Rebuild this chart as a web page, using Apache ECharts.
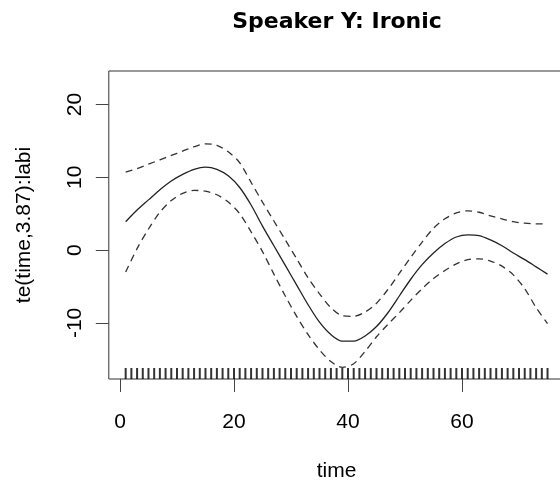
<!DOCTYPE html>
<html>
<head>
<meta charset="utf-8">
<script src="https://cdn.jsdelivr.net/npm/echarts@6/dist/echarts.min.js"></script>
<style>
html,body{margin:0;padding:0;background:#fff;overflow:hidden;}
#chart{width:560px;height:480px;}
</style>
</head>
<body>
<div id="chart"></div>
<script>
// Data
var times = [1, 3, 5, 7, 9, 11, 13, 15, 17, 19, 21, 23, 25, 27, 29, 31, 33, 35, 37, 39, 41, 43, 45, 47, 49, 51, 53, 55, 57, 59, 61, 63, 65, 67, 69, 71, 73, 75];
var fit   = [3.9, 5.5, 6.9, 8.3, 9.5, 10.4, 11.1, 11.4, 11.1, 10.2, 8.6, 6.2, 3.3, 0.6, -2.1, -4.8, -7.5, -9.9, -11.6, -12.5, -12.5, -11.8, -10.5, -8.6, -6.3, -4.0, -2.0, -0.4, 0.9, 1.8, 2.1, 2.0, 1.4, 0.6, -0.4, -1.3, -2.3, -3.3];
var upper = [10.7, 11.2, 11.8, 12.4, 13.0, 13.6, 14.2, 14.6, 14.4, 13.5, 12.0, 9.3, 6.6, 4.0, 1.4, -1.2, -3.8, -6.0, -7.9, -9.0, -9.1, -8.5, -7.3, -5.4, -3.2, -1.0, 1.1, 3.0, 4.3, 5.1, 5.4, 5.2, 4.7, 4.3, 3.9, 3.7, 3.6, 3.6];
var lower = [-3.0, 0.2, 2.9, 5.2, 6.8, 7.8, 8.2, 8.1, 7.6, 6.6, 5.0, 2.5, -0.2, -3.3, -6.3, -9.1, -11.6, -13.7, -15.3, -16.1, -15.6, -13.9, -11.9, -10.2, -8.6, -6.9, -5.3, -3.9, -2.8, -1.9, -1.3, -1.2, -1.5, -2.2, -3.4, -5.3, -7.9, -10.1];
var rugTimes = [1,2,3,4,5,6,7,8,9,10,11,12,13,14,15,16,17,18,19,20,21,22,23,24,25,26,27,28,29,30,31,32,33,34,35,36,37,38,39,40,41,42,43,44,45,46,47,48,49,50,51,52,53,54,55,56,57,58,59,60,61,62,63,64,65,66,67,68,69,70,71,72,73,74,75];
var xTicks = [0, 20, 40, 60];
var yTicks = [-10, 0, 10, 20];
var xRange = [-1.96, 77.96];
var yRange = [-17.7, 24.6];

function pairs(xs, ys) { return xs.map(function (x, i) { return [x, ys[i]]; }); }

var chart = echarts.init(document.getElementById('chart'), null, {renderer: 'canvas'});
var font = 'Liberation Sans, Arial, Helvetica, sans-serif';
chart.setOption({
  animation: false,
  backgroundColor: '#ffffff',
  title: {
    text: 'Speaker Y: Ironic',
    left: 332,
    top: 6,
    textAlign: 'center',
    textStyle: {fontFamily: 'DejaVu Sans', fontWeight: 'bold', fontSize: 22, color: '#000'}
  },
  grid: {
    left: 108.8, top: 71, right: -4.4, bottom: 101,
    show: true, borderColor: '#333', borderWidth: 1, containLabel: false,
    outerBoundsMode: 'none'
  },
  xAxis: {
    type: 'value', min: xRange[0], max: xRange[1],
    name: 'time', nameLocation: 'middle', nameGap: 82,
    nameTextStyle: {fontFamily: font, fontSize: 21, color: '#000'},
    axisLine: {show: false, onZero: false},
    splitLine: {show: false},
    axisTick: {show: true, length: 13, inside: false, customValues: xTicks, lineStyle: {color: '#444', width: 1}},
    axisLabel: {customValues: xTicks, margin: 33, fontFamily: font, fontSize: 21, color: '#000'}
  },
  yAxis: {
    type: 'value', min: yRange[0], max: yRange[1],
    name: 'te(time,3.87):labi', nameLocation: 'middle', nameGap: 74, nameRotate: 90,
    nameTextStyle: {fontFamily: font, fontSize: 21, color: '#000'},
    axisLine: {show: false, onZero: false},
    splitLine: {show: false},
    axisTick: {show: true, length: 13, inside: false, customValues: yTicks, lineStyle: {color: '#444', width: 1}},
    axisLabel: {customValues: yTicks, rotate: 90, margin: 23, fontFamily: font, fontSize: 21, color: '#000'}
  },
  series: [
    {
      type: 'line', data: pairs(times, fit), smooth: 0.3, showSymbol: false,
      lineStyle: {color: '#222', width: 1.3}
    },
    {
      type: 'line', data: pairs(times, upper), smooth: 0.3, showSymbol: false,
      lineStyle: {color: '#333', width: 1.3, type: [7, 5]}
    },
    {
      type: 'line', data: pairs(times, lower), smooth: 0.3, showSymbol: false,
      lineStyle: {color: '#333', width: 1.3, type: [7, 5]}
    },
    {
      type: 'scatter',
      data: rugTimes.map(function (t) { return [t, yRange[0]]; }),
      symbol: 'rect', symbolSize: [2, 11], symbolOffset: [0, -5.5],
      itemStyle: {color: '#000'}, silent: true
    }
  ]
});
</script>
</body>
</html>
